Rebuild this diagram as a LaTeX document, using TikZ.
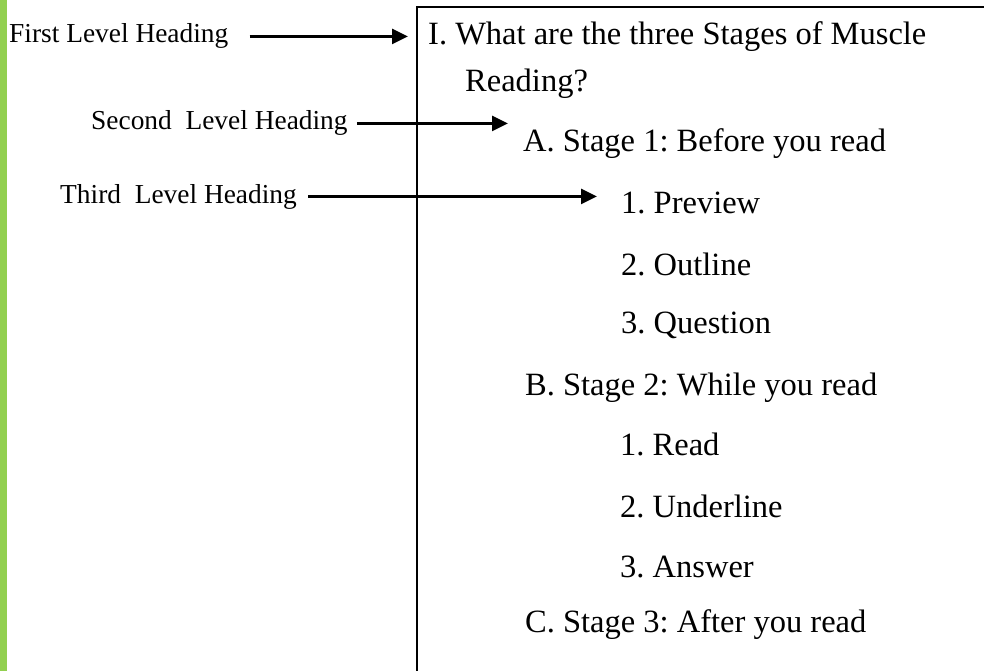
\documentclass[tikz,border=0pt]{standalone}
\usepackage{fontspec}
\setmainfont{Liberation Serif}
\usetikzlibrary{arrows.meta}
\definecolor{barGreen}{HTML}{92D050}
\begin{document}
\begin{tikzpicture}[x=1pt,y=-1pt,>={Triangle[length=16pt,width=15pt]},
    headlbl/.style={anchor=base west,inner sep=0pt,font=\fontsize{27.4}{32}\selectfont\frenchspacing},
    entry/.style={anchor=base west,inner sep=0pt,font=\fontsize{32.5}{38}\selectfont\frenchspacing},
    pointer/.style={->,line width=2.8pt}]
    \useasboundingbox (0,0) rectangle (984,671);
%Green bar down the left edge
    \fill[barGreen] (0,0) rectangle (7,671);
%Outline box, cut off at the right and bottom
    \draw[line width=2.8pt] (417,671) -- (417,7) -- (984,7);

%Heading labels on the left
    \node[headlbl] (firstlbl) at (9,43) {First Level Heading};
    \node[headlbl] (secondlbl) at (91,130) {Second~~Level Heading};
    \node[headlbl] (thirdlbl) at (60,203) {Third~~Level Heading};

%The outline itself
    \node[entry] (title) at (428,45) {I. What are the three Stages of Muscle};
    \node[entry] (reading) at (465,92) {Reading?};
    \node[entry] (stageA) at (523,152) {A. Stage 1: Before you read};
    \foreach \name/\y/\txt in {preview/213/1. Preview,outline/275/2. Outline,question/333/3. Question}
        {
        \node[entry] (\name) at (621,\y) {\txt};
    }
    \node[entry] (stageB) at (525,395) {B. Stage 2: While you read};
    \foreach \name/\y/\txt in {readit/455/1. Read,underline/517/2. Underline,answer/577/3. Answer}
        {
        \node[entry] (\name) at (620,\y) {\txt};
    }
    \node[entry] (stageC) at (525,632) {C. Stage 3: After you read};

%Arrow tips
    \coordinate (firsttip) at (408,38);
    \coordinate (secondtip) at (508,123);
    \coordinate (thirdtip) at (597,199);
    \draw [pointer,shorten <=21pt](firstlbl.east) -- (firstlbl.east -| firsttip);
    \draw [pointer,shorten <=9pt](secondlbl.east) -- (secondlbl.east -| secondtip);
    \draw [pointer,shorten <=11pt](thirdlbl.east) -- (thirdlbl.east -| thirdtip);
\end{tikzpicture}
\end{document}
